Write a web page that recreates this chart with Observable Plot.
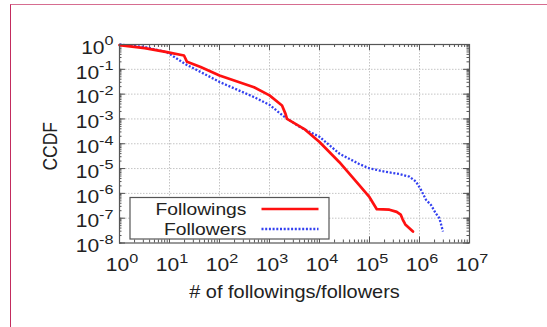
<!DOCTYPE html>
<html>
<head>
<meta charset="utf-8">
<script src="https://cdn.jsdelivr.net/npm/d3@7"></script>
<script src="https://cdn.jsdelivr.net/npm/@observablehq/plot@0.6"></script>
<style>
  html, body { margin: 0; padding: 0; background: #fff; }
  #wrap { position: relative; width: 547px; height: 327px; overflow: hidden; }
  #edge { position: absolute; left: 9.5px; top: 3.5px; right: -4px; bottom: -4px;
          border-top: 1.5px solid #d66d90; border-left: 1.5px solid #c32c5e; }
  #wrap svg { position: absolute; left: 0; top: 0; }
</style>
</head>
<body>
<div id="wrap"><div id="edge"></div></div>
<script>
// Complementary CDF of following / follower counts (log-log)
const followingsX = [1, 3.2, 8.9, 19.5, 22.4, 42, 100, 490, 1000, 1780, 2090, 2240, 4900, 1e4, 2.5e4, 6.3e4, 1e5, 1.4e5, 2.5e5, 3.5e5, 4.2e5, 4.6e5, 5.2e5, 7.4e5];
const followingsY = [0.95, 0.71, 0.49, 0.36, 0.20, 0.123, 0.056, 0.019, 0.0089, 0.0035, 0.0016, 0.001, 4e-4, 1.17e-4, 1.8e-5, 2.1e-6, 7e-7, 2.3e-7, 2.2e-7, 1.8e-7, 1.4e-7, 9e-8, 5.6e-8, 2.9e-8];

const followersX = [1, 3.2, 8.9, 21, 42, 100, 490, 1000, 2000, 4000, 1e4, 2.5e4, 6.3e4, 1e5, 2.1e5, 4e5, 6.3e5, 8.5e5, 1.07e6, 1.35e6, 1.7e6, 2.1e6, 2.5e6, 2.95e6];
const followersY = [1.0, 0.79, 0.49, 0.16, 0.078, 0.031, 0.0076, 0.0037, 0.0012, 4.8e-4, 1.9e-4, 4e-5, 1.5e-5, 1.02e-5, 7.4e-6, 6e-6, 4.7e-6, 3e-6, 1.4e-6, 5.5e-7, 3.4e-7, 1.6e-7, 1e-7, 2.9e-8];

const seriesNames = ["Followings", "Followers"];
const xTickExponents = [0, 1, 2, 3, 4, 5, 6, 7];
const yTickExponents = [0, -1, -2, -3, -4, -5, -6, -7, -8];
const xTitle = "# of followings/followers";
const yTitle = "CCDF";

const followings = followingsX.map((x, i) => ({x, y: followingsY[i]}));
const followers = followersX.map((x, i) => ({x, y: followersY[i]}));
const xTicks = xTickExponents.map(e => ({v: Math.pow(10, e), label: `10^${e}`}));
const yTicks = yTickExponents.map(e => ({v: Math.pow(10, e), label: `10^${e}`}));
const xMinor = d3.scaleLog().domain([1, 1e7]).ticks();
const yMinor = d3.scaleLog().domain([1e-8, 1]).ticks();

const W = 547, H = 327;
const mL = 119, mR = 78, mT = 44, mB = 84.5;
const innerW = W - mL - mR, innerH = H - mT - mB;
const FONT = "'Liberation Sans', Arial, Helvetica, sans-serif";
const INK = "#555";
const TXT = "#222";
const SX = 1.2;            // horizontal stretch of lettering
const RED = "#ff1010", BLUE = "#3340f0";

const chart = Plot.plot({
  width: W, height: H,
  marginLeft: mL, marginRight: mR, marginTop: mT, marginBottom: mB,
  style: {fontFamily: FONT, background: "transparent", overflow: "visible"},
  x: {type: "log", domain: [1, 1e7], axis: null},
  y: {type: "log", domain: [1e-8, 1], axis: null},
  marks: [
    // dotted grid at every decade
    Plot.ruleX(xTicks.slice(1, -1), {x: "v", stroke: "#c4c4c4", strokeDasharray: "1.5,1.5"}),
    Plot.ruleY(yTicks.slice(1, -1), {y: "v", stroke: "#c4c4c4", strokeDasharray: "1.5,1.5"}),
    // minor and major tick marks, mirrored on all sides
    Plot.ruleX(xMinor, {stroke: INK, insetTop: innerH - 3}),
    Plot.ruleX(xMinor, {stroke: INK, insetBottom: innerH - 3}),
    Plot.ruleX(xTicks, {x: "v", stroke: INK, insetTop: innerH - 6}),
    Plot.ruleX(xTicks, {x: "v", stroke: INK, insetBottom: innerH - 6}),
    Plot.ruleY(yMinor, {stroke: INK, insetRight: innerW - 2.5}),
    Plot.ruleY(yMinor, {stroke: INK, insetLeft: innerW - 2.5}),
    Plot.ruleY(yTicks, {y: "v", stroke: INK, insetRight: innerW - 6}),
    Plot.ruleY(yTicks, {y: "v", stroke: INK, insetLeft: innerW - 6}),
    // the two distributions
    Plot.line(followers, {x: "x", y: "y", stroke: BLUE, strokeWidth: 2.3, strokeDasharray: "2,1.7", strokeLinecap: "butt"}),
    Plot.line(followings, {x: "x", y: "y", stroke: RED, strokeWidth: 2.7, strokeLinejoin: "round"}),
    Plot.frame({stroke: INK, strokeWidth: 1.2}),
    // tick labels
    Plot.text(xTicks, {x: "v", y: () => 1e-8, text: "label",
      fontSize: 17.5, fill: TXT, textAnchor: "middle", lineAnchor: "bottom", dy: 28.2, dx: 2.5}),
    Plot.text(yTicks, {x: () => 1, y: "v", text: "label",
      fontSize: 17.5, fill: TXT, textAnchor: "end", lineAnchor: "bottom", dy: 9.3, dx: -6}),
    // axis titles
    Plot.text([xTitle], {frameAnchor: "bottom", fontSize: 17.5, fill: TXT,
      textAnchor: "middle", lineAnchor: "bottom", dy: 55}),
    Plot.text([yTitle], {frameAnchor: "left", fontSize: 17.5, fill: TXT,
      textAnchor: "middle", rotate: -90, lineAnchor: "middle", dx: -69, dy: 2.5})
  ]
});

document.getElementById("wrap").appendChild(chart);
const svg = d3.select(chart);

function stretch(el, sx, rotated) {
  let t = el.getAttribute("transform");
  if (!t) {
    const x = +el.getAttribute("x") || 0, y = +el.getAttribute("y") || 0;
    el.removeAttribute("x"); el.removeAttribute("y");
    t = `translate(${x},${y})`;
  }
  el.setAttribute("transform", t + (rotated ? ` scale(1,${sx})` : ` scale(${sx},1)`));
}

const allText = svg.selectAll("text");
// powers of ten: base plus raised exponent
allText.filter(function () { return this.textContent.includes("^"); }).each(function () {
  const [base, exp] = this.textContent.split("^");
  this.textContent = base;
  d3.select(this).append("tspan").attr("dy", -8.5).attr("font-size", 13.5).text(exp);
  stretch(this, SX, false);
});
allText.filter(function () { return this.textContent === xTitle; }).each(function () { stretch(this, 1.14, false); });
allText.filter(function () { return this.textContent === yTitle; }).each(function () { stretch(this, SX, true); });

// key
const key = svg.append("g").attr("font-family", FONT).attr("font-size", 16.5).attr("fill", TXT);
key.append("rect").attr("x", 130).attr("y", 197.5).attr("width", 199).attr("height", 41.5)
  .attr("fill", "#fff").attr("stroke", INK).attr("stroke-width", 1.2);
const keyStyles = [
  {stroke: RED, width: 2.7, dash: null, y: 209},
  {stroke: BLUE, width: 2.3, dash: "2,1.7", y: 229}
];
seriesNames.forEach((name, i) => {
  const s = keyStyles[i];
  key.append("text").attr("text-anchor", "end").attr("dy", "0.35em")
    .attr("transform", `translate(246.5,${s.y}) scale(1.17,1)`).text(name);
  key.append("line").attr("x1", 261.5).attr("x2", 318.5).attr("y1", s.y).attr("y2", s.y)
    .attr("stroke", s.stroke).attr("stroke-width", s.width)
    .attr("stroke-dasharray", s.dash);
});
</script>
</body>
</html>
